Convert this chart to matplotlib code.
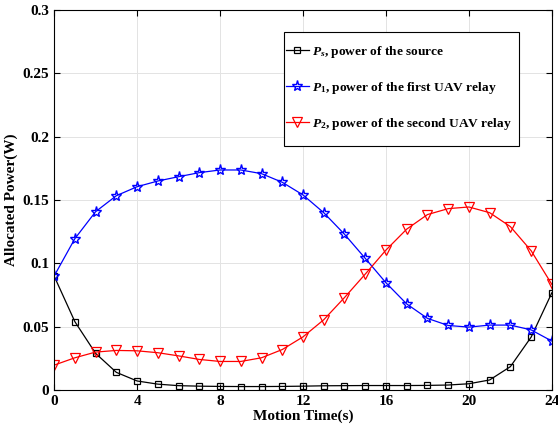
import matplotlib
matplotlib.use("Agg")
import matplotlib.pyplot as plt
from matplotlib.patches import Rectangle
import numpy as np

plt.rcParams['font.family'] = 'Liberation Serif'
plt.rcParams['font.weight'] = 'bold'
plt.rcParams['mathtext.fontset'] = 'custom'
plt.rcParams['mathtext.it'] = 'Liberation Serif:italic:bold'
plt.rcParams['mathtext.rm'] = 'Liberation Serif:bold'

# time slots
t = np.arange(0, 25)

# source power
p_s = [0.090, 0.054, 0.029, 0.014, 0.0072, 0.0047, 0.0035, 0.0031, 0.0029, 0.0028,
       0.0028, 0.0029, 0.0031, 0.0034, 0.0035, 0.0036, 0.0036, 0.0036, 0.0037, 0.0040,
       0.0050, 0.0080, 0.0185, 0.0418, 0.0768]
# first UAV relay
p_1 = [0.090, 0.1195, 0.1408, 0.1534, 0.1605, 0.165, 0.1684, 0.1716, 0.1737, 0.1737,
       0.1708, 0.1640, 0.1540, 0.1400, 0.1230, 0.1040, 0.0847, 0.0680, 0.0566, 0.0510,
       0.0497, 0.0513, 0.0513, 0.0475, 0.0387]
# second UAV relay
p_2 = [0.0197, 0.0255, 0.0300, 0.0313, 0.0310, 0.0295, 0.0270, 0.0242, 0.0226, 0.0226,
       0.0255, 0.0320, 0.0420, 0.0555, 0.0730, 0.0915, 0.1105, 0.1270, 0.1385, 0.1432,
       0.1445, 0.1400, 0.1290, 0.1100, 0.0834]

fig = plt.figure(figsize=(5.58, 4.32), dpi=100)
ax = fig.add_axes([0.097, 0.097, 0.892, 0.880])

ax.plot(t, p_s, '-s', color='black', lw=0.9, ms=5, mfc='none', mew=0.9,
        label=r'$P_s$, power of the source')
ax.plot(t, p_1, '-*', color='blue', lw=0.9, ms=8, mfc='none', mew=1.0,
        label=r'$P_1$, power of the first UAV relay')
ax.plot(t, p_2, '-v', color='red', lw=0.9, ms=7, mfc='none', mew=0.9,
        label=r'$P_2$, power of the second UAV relay')

ax.set_xlim(0, 24)
ax.set_ylim(0, 0.3)
ax.set_xticks(np.arange(0, 25, 4))
ax.set_yticks([0, 0.05, 0.1, 0.15, 0.2, 0.25, 0.3])
ax.set_yticklabels(['0', '0.05', '0.1', '0.15', '0.2', '0.25', '0.3'])
ax.tick_params(direction='in', top=True, right=True, labelsize=11, length=4)
ax.grid(True, color='#e3e3e3', lw=0.7)
ax.set_axisbelow(True)

ax.set_xlabel('Motion Time(s)', fontsize=11, fontweight='bold', labelpad=1)
ax.set_ylabel('Allocated Power(W)', fontsize=11, fontweight='bold', labelpad=3)

# legend box drawn separately so the vertical padding can be wider than the side padding
box = Rectangle((0.462, 0.642), 0.472, 0.300, transform=ax.transAxes,
                facecolor='white', edgecolor='black', lw=0.8, zorder=4.5)
ax.add_patch(box)
leg = ax.legend(loc='center left', bbox_to_anchor=(0.462, 0.795), fontsize=9.6,
                frameon=False, handlelength=1.7, handletextpad=0.25,
                labelspacing=1.5, borderpad=0.15, borderaxespad=0)

fig.savefig('out.png', dpi=100)
